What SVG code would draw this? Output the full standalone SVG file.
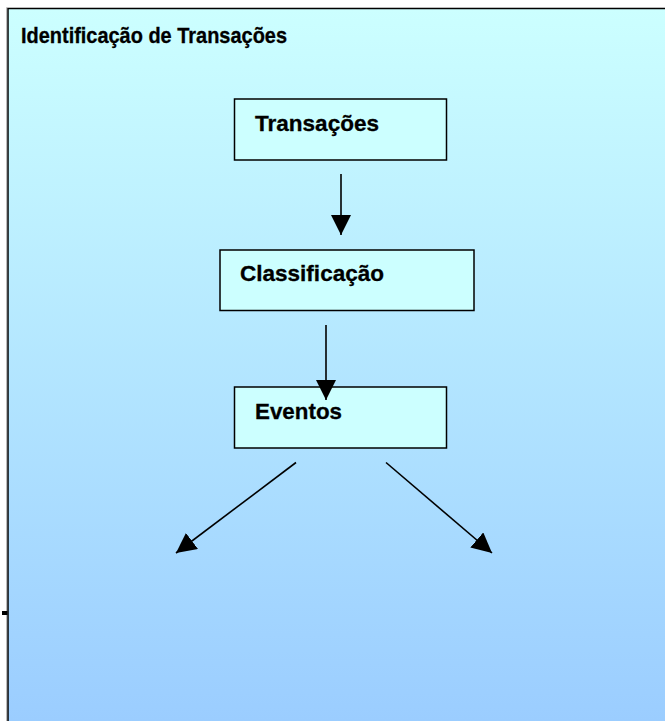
<svg xmlns="http://www.w3.org/2000/svg" width="665" height="721" viewBox="0 0 665 721">
<defs>
<linearGradient id="bg" x1="0" y1="9" x2="0" y2="721" gradientUnits="userSpaceOnUse">
<stop offset="0" stop-color="#CCFFFF"/>
<stop offset="1" stop-color="#9BCDFF"/>
</linearGradient>
<marker id="ah" viewBox="0 0 20 20" refX="20" refY="10" markerWidth="20" markerHeight="20" markerUnits="userSpaceOnUse" orient="auto">
<path d="M0,0 L20,10 L0,20 Z" fill="#000"/>
</marker>
<style>
.box{fill:#CCFFFF;stroke:#000;stroke-width:1.5}
.lbl{font-family:"Liberation Sans",Arial,sans-serif;font-weight:bold;font-size:22px;fill:#000;stroke:#000;stroke-width:0.3}
.con{stroke:#000;stroke-width:1.6;fill:none;marker-end:url(#ah)}
</style>
</defs>
<rect x="0" y="0" width="665" height="721" fill="#fff"/>
<g id="frame">
<rect x="8" y="8.5" width="680" height="740" fill="url(#bg)" stroke="#000" stroke-width="1.5"/>
<line x1="6.5" y1="7.5" x2="665" y2="7.5" stroke="#bbb" stroke-width="1"/>
<line x1="6.5" y1="7.5" x2="6.5" y2="721" stroke="#bbb" stroke-width="1"/>
<rect x="2" y="611" width="5.5" height="4" fill="#000"/>
<text x="21" y="42.5" class="lbl" font-size="22" textLength="266" lengthAdjust="spacingAndGlyphs">Identificação de Transações</text>
</g>
<g id="transacoes">
<rect class="box" x="234.5" y="99" width="212" height="61"/>
<text class="lbl" x="255" y="131" textLength="124" lengthAdjust="spacingAndGlyphs">Transações</text>
</g>
<g id="classificacao">
<rect class="box" x="220" y="250" width="254" height="60.5"/>
<text class="lbl" x="240" y="281" textLength="144" lengthAdjust="spacingAndGlyphs">Classificação</text>
</g>
<g id="eventos">
<rect class="box" x="234.5" y="387" width="212" height="61"/>
<text class="lbl" x="255" y="418.5" textLength="87" lengthAdjust="spacingAndGlyphs">Eventos</text>
</g>
<g id="connectors">
<line class="con" x1="341" y1="174" x2="341" y2="235"/>
<line class="con" x1="326" y1="325" x2="326" y2="400"/>
<line class="con" x1="296" y1="462.5" x2="176" y2="553"/>
<line class="con" x1="386" y1="462.5" x2="492" y2="553"/>
</g>
</svg>
